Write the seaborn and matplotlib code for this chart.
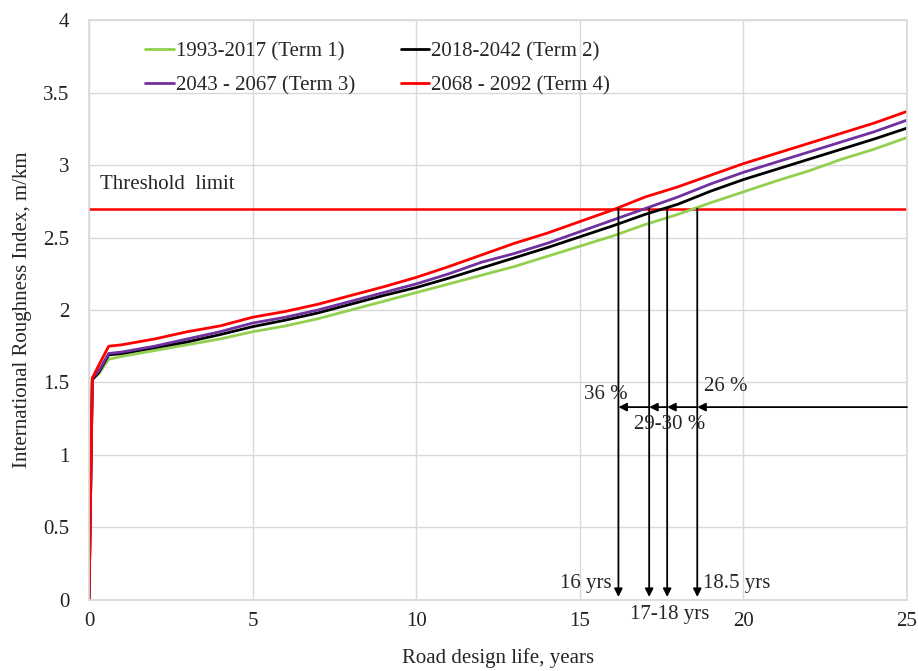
import numpy as np
import pandas as pd
import matplotlib
matplotlib.use("Agg")
import matplotlib.pyplot as plt
import seaborn as sns

#----------------------------------
# Data
#----------------------------------
years = [0, 0.1, 0.3, 0.6, 1, 2, 3, 4, 5, 6, 7, 8, 9, 10, 11, 12, 13,
         14, 15, 16, 17, 18, 19, 20, 21, 22, 23, 24, 25]

term1 = [0, 1.52, 1.56, 1.66, 1.68, 1.72, 1.76, 1.80, 1.85, 1.89, 1.94, 2.00,
         2.06, 2.12, 2.18, 2.24, 2.30, 2.37, 2.44, 2.51, 2.59, 2.66, 2.74,
         2.815, 2.89, 2.96, 3.04, 3.11, 3.19]
term2 = [0, 1.52, 1.57, 1.69, 1.70, 1.74, 1.78, 1.83, 1.885, 1.93, 1.98, 2.04,
         2.10, 2.155, 2.22, 2.29, 2.36, 2.43, 2.505, 2.58, 2.66, 2.73, 2.82,
         2.90, 2.97, 3.04, 3.11, 3.18, 3.255]
term3 = [0, 1.53, 1.58, 1.70, 1.71, 1.75, 1.80, 1.85, 1.91, 1.95, 2.00, 2.06,
         2.12, 2.18, 2.25, 2.33, 2.39, 2.46, 2.54, 2.62, 2.70, 2.78, 2.87,
         2.95, 3.02, 3.09, 3.16, 3.23, 3.31]
term4 = [0, 1.53, 1.62, 1.75, 1.76, 1.80, 1.85, 1.89, 1.95, 1.99, 2.04, 2.10,
         2.16, 2.225, 2.30, 2.38, 2.46, 2.53, 2.61, 2.69, 2.78, 2.85, 2.93,
         3.01, 3.08, 3.15, 3.22, 3.29, 3.37]

labels = ["1993-2017 (Term 1)", "2018-2042 (Term 2)",
          "2043 - 2067 (Term 3)", "2068 - 2092 (Term 4)"]
colors = ["#92D050", "#000000", "#7030A0", "#FF0000"]

threshold = 2.7
cross_years = [16.18, 17.12, 17.67, 18.59]   # where the terms reach the limit
arrow_level = 1.33

#----------------------------------
# Long table for seaborn
#----------------------------------
frames = []
for lab, vals in zip(labels, [term1, term2, term3, term4]):
    frames.append(pd.DataFrame({"year": years, "iri": vals, "term": lab}))
df = pd.concat(frames, ignore_index=True)

#----------------------------------
# Plot
#----------------------------------
sns.set_theme(style="whitegrid")
plt.rcParams['font.family'] = ['Liberation Serif', 'DejaVu Serif']
fs = 15

fig = plt.figure(figsize=(9.18, 6.71), dpi=100)
ax = fig.add_axes([0.097, 0.106, 0.891, 0.864])

sns.lineplot(data=df, x="year", y="iri", hue="term", palette=colors,
             hue_order=labels, estimator=None, sort=False, linewidth=2,
             ax=ax)

ax.axhline(threshold, color="#FF0000", lw=1.8, zorder=1)
ax.text(0.34, 2.8, "Threshold  limit", fontsize=fs, ha="left", va="bottom")

# vertical arrows down to the x axis
for cx in cross_years:
    ax.annotate("", xy=(cx, 0.02), xytext=(cx, threshold),
                arrowprops=dict(arrowstyle="-|>", color="black", lw=1.3,
                                mutation_scale=12, shrinkA=0, shrinkB=0))

# horizontal arrows pointing left
stops = [25] + cross_years[::-1]
for a, b in zip(stops[:-1], stops[1:]):
    ax.annotate("", xy=(b, arrow_level), xytext=(a, arrow_level),
                arrowprops=dict(arrowstyle="-|>", color="black", lw=1.3,
                                mutation_scale=12, shrinkA=0, shrinkB=0))

ax.text(15.8, 1.42, "36 %", fontsize=fs, ha="center", va="center")
ax.text(19.45, 1.47, "26 %", fontsize=fs, ha="center", va="center")
ax.text(17.76, 1.21, "29-30 %", fontsize=fs, ha="center", va="center")
ax.text(15.17, 0.11, "16 yrs", fontsize=fs, ha="center", va="center")
ax.text(19.8, 0.11, "18.5 yrs", fontsize=fs, ha="center", va="center")
ax.text(17.76, -0.1, "17-18 yrs", fontsize=fs, ha="center", va="center",
        clip_on=False)

ax.set_xlim(0, 25)
ax.set_ylim(0, 4)
ax.set_xticks(np.arange(0, 26, 5))
ax.set_yticks(np.arange(0, 4.01, 0.5))
ax.set_yticklabels(["0", "0.5", "1", "1.5", "2", "2.5", "3", "3.5", "4"])
ax.tick_params(axis="both", labelsize=fs, length=0, labelcolor="#222222")
ax.tick_params(axis="y", pad=14)
ax.tick_params(axis="x", pad=9)
ax.grid(color="#D9D9D9", lw=1)
for s in ax.spines.values():
    s.set_color("#D9D9D9")

ax.set_xlabel("Road design life, years", fontsize=fs, labelpad=12)
ax.set_ylabel("International Roughness Index, m/km", fontsize=fs, labelpad=8)

# legend rows: Term1 | Term2 / Term3 | Term4
h, l = ax.get_legend_handles_labels()
order = [0, 2, 1, 3]
ax.legend([h[i] for i in order], [l[i] for i in order], ncol=2,
          loc="upper left", bbox_to_anchor=(0.046, 0.995), frameon=False,
          fontsize=fs, handlelength=1.35, handletextpad=0.1,
          columnspacing=2.2, labelspacing=0.7)

fig.savefig("out.png", dpi=100)
